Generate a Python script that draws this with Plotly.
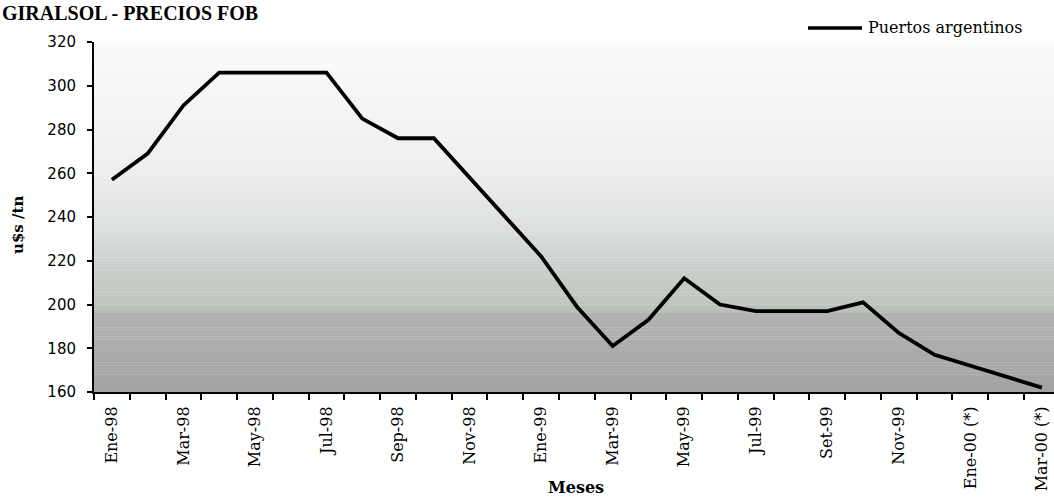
import plotly.graph_objects as go

# ---------------- data ----------------
title_text = "GIRALSOL - PRECIOS FOB"
series_name = "Puertos argentinos"
months = ["Ene-98", "Feb-98", "Mar-98", "Abr-98", "May-98", "Jun-98", "Jul-98",
          "Ago-98", "Sep-98", "Oct-98", "Nov-98", "Dic-98",
          "Ene-99", "Feb-99", "Mar-99", "Abr-99", "May-99", "Jun-99", "Jul-99",
          "Ago-99", "Set-99", "Oct-99", "Nov-99", "Dic-99",
          "Ene-00 (*)", "Feb-00 (*)", "Mar-00 (*)"]
prices = [257, 269, 291, 306, 306, 306, 306, 285, 276, 276, 258, 240,
          222, 199, 181, 193, 212, 200, 197, 197, 197, 201, 187, 177,
          172, 167, 162]
y_ticks = [160, 180, 200, 220, 240, 260, 280, 300, 320]
y_title = "u$s /tn"
x_title = "Meses"

# ---------------- layout geometry ----------------
W, H = 1054, 499
ML, MT, MB, MR = 94, 42, 107, 0
PW = W - ML - MR
PH = H - MT - MB
CAT_W = 35.77  # px per month category


def px_to_paper_x(px):
    return (px - ML) / PW


def px_to_paper_y(py):
    return (H - MB - py) / PH


fig = go.Figure()

fig.add_trace(go.Scatter(
    x=months, y=prices, mode="lines", name=series_name,
    line=dict(color="black", width=3.8), showlegend=False,
))

# gradient background (styling only)
stops = [
    (0.00, (250, 251, 250)),
    (0.12, (246, 247, 246)),
    (0.37, (237, 238, 237)),
    (0.50, (224, 227, 224)),
    (0.63, (206, 210, 206)),
    (0.77, (186, 193, 186)),
    (0.775, (178, 179, 178)),
    (1.00, (163, 163, 163)),
]


def color_at(f):
    for (f0, c0), (f1, c1) in zip(stops[:-1], stops[1:]):
        if f0 <= f <= f1:
            t = 0 if f1 == f0 else (f - f0) / (f1 - f0)
            return tuple(round(a + (b - a) * t) for a, b in zip(c0, c1))
    return stops[-1][1]


N = 120
shapes = []
for i in range(N):
    f_top = i / N
    f_bot = (i + 1) / N
    c = color_at((f_top + f_bot) / 2)
    shapes.append(dict(
        type="rect", xref="x domain", yref="y domain", layer="below",
        x0=0, x1=1, y0=1 - f_bot, y1=1 - f_top + 0.001,
        fillcolor="rgb(%d,%d,%d)" % c, line=dict(width=0),
    ))

# legend sample line
shapes.append(dict(
    type="line", xref="paper", yref="paper",
    x0=px_to_paper_x(808), x1=px_to_paper_x(862),
    y0=px_to_paper_y(28), y1=px_to_paper_y(28),
    line=dict(color="black", width=3.5),
))

tick_text = [m if i % 2 == 0 else "" for i, m in enumerate(months)]

annotations = [
    dict(text="<b>" + title_text + "</b>", xref="paper", yref="paper",
         x=px_to_paper_x(0), y=px_to_paper_y(13), xanchor="left", yanchor="middle",
         showarrow=False, font=dict(family="Liberation Serif", size=20, color="black")),
    dict(text=series_name, xref="paper", yref="paper",
         x=px_to_paper_x(866), y=px_to_paper_y(28), xanchor="left", yanchor="middle",
         showarrow=False, font=dict(family="DejaVu Serif", size=16, color="black")),
    dict(text="<b>" + y_title + "</b>", xref="paper", yref="paper",
         x=px_to_paper_x(18), y=px_to_paper_y(225), xanchor="center", yanchor="middle",
         textangle=-90, showarrow=False,
         font=dict(family="DejaVu Serif", size=15, color="black")),
    dict(text="<b>" + x_title + "</b>", xref="paper", yref="paper",
         x=px_to_paper_x(576), y=px_to_paper_y(487), xanchor="center", yanchor="middle",
         showarrow=False, font=dict(family="DejaVu Serif", size=16, color="black")),
]

fig.update_layout(
    width=W, height=H,
    margin=dict(l=ML, r=MR, t=MT, b=MB, pad=0),
    paper_bgcolor="white", plot_bgcolor="rgba(0,0,0,0)",
    shapes=shapes, annotations=annotations, showlegend=False,
    xaxis=dict(
        type="category", categoryorder="array", categoryarray=months,
        range=[-0.5, -0.5 + PW / CAT_W],
        tickmode="array", tickvals=months, ticktext=tick_text,
        tickson="boundaries", ticks="outside", ticklen=6, tickwidth=1.5,
        tickcolor="black", tickangle=-90,
        tickfont=dict(family="DejaVu Serif", size=16, color="black"),
        ticklabelstandoff=6,
        showline=True, linecolor="black", linewidth=2,
        showgrid=False, zeroline=False,
    ),
    yaxis=dict(
        range=[160, 320], tickmode="array", tickvals=y_ticks,
        ticks="outside", ticklen=5, tickwidth=1.5, tickcolor="black",
        tickfont=dict(family="DejaVu Sans", size=15, color="black"),
        ticklabelstandoff=8,
        showline=True, linecolor="black", linewidth=2,
        showgrid=False, zeroline=False,
    ),
)

fig.write_html("out.html")
